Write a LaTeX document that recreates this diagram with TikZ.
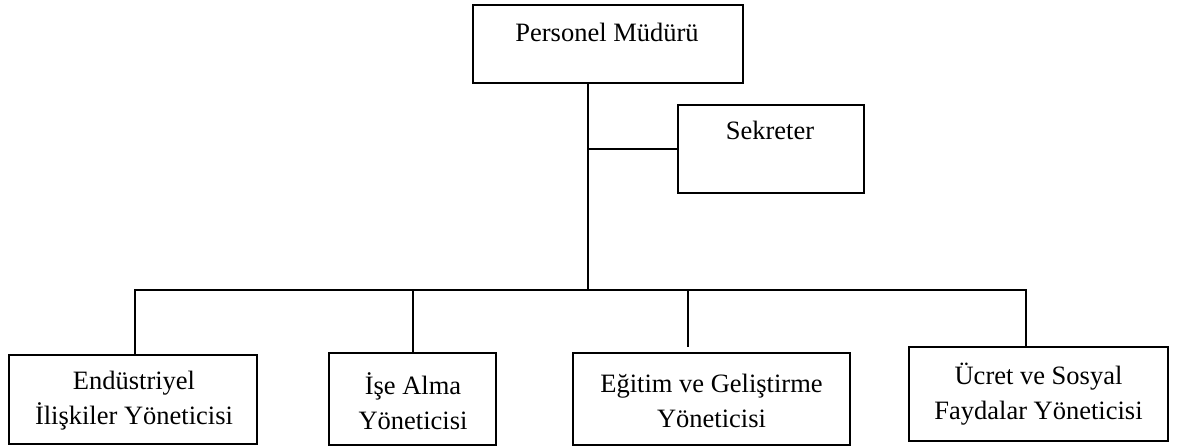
\documentclass[tikz,border=0pt]{standalone}
\usepackage{fontspec}
\setmainfont{Liberation Serif}
\begin{document}
\begin{tikzpicture}[x=0.5pt,y=-0.5pt,
  box/.style={draw,line width=1.1pt,rectangle,inner sep=0pt,outer sep=0pt},
  lbl/.style={align=center,inner sep=0pt,font=\fontsize{13.25}{17.5}\selectfont},
  conn/.style={line width=1pt}]
\useasboundingbox (0,0) rectangle (1179,448);
% boxes
\node[box,minimum width=135pt,minimum height=39pt] (pm) at (608,44) {};
\node[box,minimum width=93pt,minimum height=44pt] (sek) at (771,149) {};
\node[box,minimum width=124pt,minimum height=44.5pt] (b1) at (133,399.5) {};
\node[box,minimum width=83.5pt,minimum height=46pt] (b2) at (412.5,399) {};
\node[box,minimum width=138.5pt,minimum height=46pt] (b3) at (711.5,399) {};
\node[box,minimum width=129.5pt,minimum height=47pt] (b4) at (1038.5,394) {};
% texts
\node[lbl,anchor=base] (tpm) at (607,42) {Personel Müdürü};
\node[lbl,anchor=base] (tsek) at (770,140) {Sekreter};
\node[lbl] (t1) at (134,401) {Endüstriyel\\İlişkiler Yöneticisi};
\node[lbl] (t2) at (413,401) {İşe Alma\\Yöneticisi};
\node[lbl] (t3) at (711.5,401) {Eğitim ve Geliştirme\\Yöneticisi};
\node[lbl] (t4) at (1038.5,394) {Ücret ve Sosyal\\Faydalar Yöneticisi};
% connectors
\coordinate (j) at (588,290);
\coordinate (bL) at (135,290);
\coordinate (bR) at (1026,290);
\coordinate (d3) at (688,347);
\draw[conn] (pm.south -| j) -- (j);
\draw[conn] (sek.west) -- (sek.west -| j);
\draw[conn] (b1.north -| bL) -- (bL) -- (bR) -- (b4.north -| bR);
\draw[conn] (b2.north) -- (b2.north |- j);
\draw[conn] (d3) -- (d3 |- j);
\end{tikzpicture}
\end{document}
